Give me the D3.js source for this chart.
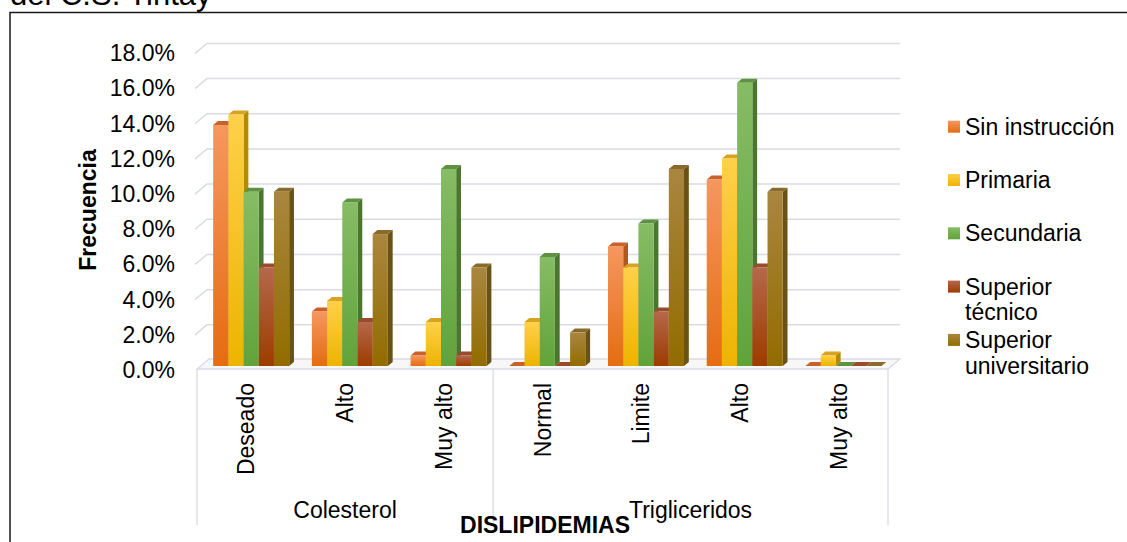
<!DOCTYPE html>
<html>
<head>
<meta charset="utf-8">
<script src="https://cdn.jsdelivr.net/npm/d3@7"></script>
<style>
  html, body { margin: 0; padding: 0; background: #fff; }
  svg { display: block; font-family: "Liberation Sans", Arial, sans-serif; }
</style>
</head>
<body>
<svg id="chart" width="1127" height="542"></svg>
<script>
// Lipid categories grouped by test
const groups = ["Colesterol", "Trigliceridos"];
const categories = ["Deseado", "Alto", "Muy alto", "Normal", "Limite", "Alto", "Muy alto"];
const categoryGroup = [0, 0, 0, 1, 1, 1, 1];

// Education levels (series) and their percentages per category
const seriesNames = ["Sin instrucción", "Primaria", "Secundaria", "Superior técnico", "Superior universitario"];
const sinInstruccion = [13.7, 3.1, 0.6, 0.0, 6.8, 10.6, 0.0];
const primaria       = [14.3, 3.7, 2.5, 2.5, 5.6, 11.8, 0.6];
const secundaria     = [9.9, 9.3, 11.2, 6.2, 8.1, 16.1, 0.0];
const superiorTec    = [5.6, 2.5, 0.6, 0.0, 3.1, 5.6, 0.0];
const superiorUniv   = [9.9, 7.5, 5.6, 1.9, 11.2, 9.9, 0.0];
const seriesValues = [sinInstruccion, primaria, secundaria, superiorTec, superiorUniv];

const yTicks = [0, 2, 4, 6, 8, 10, 12, 14, 16, 18];

// Face colours: gradient top/bottom for the front, plus side and top faces
const palette = [
  { top: "#F5975F", bottom: "#E56C12", side: "#B2561C", cap: "#C8612A" },
  { top: "#FFD04A", bottom: "#EDB400", side: "#B58A00", cap: "#D7A321" },
  { top: "#86BC65", bottom: "#61A33A", side: "#4A772D", cap: "#5E9140" },
  { top: "#B5684A", bottom: "#9C3C00", side: "#763614", cap: "#9A4B2C" },
  { top: "#A9863F", bottom: "#926C00", side: "#6A5216", cap: "#8A6A2A" }
];

const svg = d3.select("#chart");
const font = "Liberation Sans, Arial, sans-serif";

// 3-D box geometry: depth offset of the plot walls
const depth = { dx: 12, dy: -10 };
const barFrontT = 0.4, barBackT = 0.8;

const yBack = d3.scaleLinear().domain([0, 18]).range([360, 43.4]);
const yFront = v => yBack(v) - depth.dy;

const x = d3.scaleBand().domain(d3.range(categories.length)).range([197, 888]);
const barW = 15.2;
const xSub = d3.scaleBand().domain(d3.range(seriesNames.length))
  .range([0, barW * seriesNames.length]);

// gradients
const defs = svg.append("defs");
palette.forEach((c, i) => {
  const g = defs.append("linearGradient").attr("id", "grad" + i)
    .attr("x1", 0).attr("y1", 0).attr("x2", 0).attr("y2", 1);
  g.append("stop").attr("offset", "0%").attr("stop-color", c.top);
  g.append("stop").attr("offset", "100%").attr("stop-color", c.bottom);
});

// frame and the heading line above it
svg.append("text").attr("x", 10).attr("y", 5)
  .attr("font-size", 31).attr("font-family", font).attr("fill", "#000")
  .text("del C.S. Tintay");
svg.append("rect").attr("x", 10).attr("y", 12.5).attr("width", 1140).attr("height", 560)
  .attr("fill", "none").attr("stroke", "#1a1a1a").attr("stroke-width", 1.5);

// floor
const x0 = x.range()[0], x1 = x.range()[1];
const floorFront = yFront(0) - 1;
svg.append("polygon")
  .attr("points", [[x0, floorFront], [x1, floorFront], [x1 + depth.dx, floorFront + depth.dy], [x0 + depth.dx, floorFront + depth.dy]].join(" "))
  .attr("fill", "#f7f7f8").attr("stroke", "#d9dce2").attr("stroke-width", 1.3);

// gridlines: left-wall slant + back wall
const grid = svg.append("g").attr("stroke", "#d9dce3").attr("stroke-width", 1.5).attr("fill", "none");
yTicks.forEach(t => {
  if (t === 0) return;
  grid.append("path")
    .attr("d", `M${x0 - 2},${yFront(t)} L${x0 + depth.dx - 2},${yBack(t)} L${x1 + depth.dx},${yBack(t)}`);
});

// y-axis tick labels
const yAxis = d3.axisLeft(d3.scaleLinear().domain([0, 18]).range([yFront(0), yFront(18)]))
  .tickValues(yTicks).tickSize(0).tickPadding(0)
  .tickFormat(d => d.toFixed(1) + "%");
const yg = svg.append("g").attr("transform", "translate(175,0)").call(yAxis);
yg.select(".domain").remove();
yg.selectAll("text").attr("font-size", 23).attr("font-family", font).attr("fill", "#000");

// bars
const bx = depth.dx * barFrontT, by = depth.dy * barFrontT;
const sdx = depth.dx * (barBackT - barFrontT), sdy = depth.dy * (barBackT - barFrontT);
const barsG = svg.append("g");
categories.forEach((cat, ci) => {
  const pad = (x.bandwidth() - xSub.range()[1]) / 2;
  seriesValues.forEach((vals, si) => {
    const v = vals[ci];
    const left = x(ci) + pad + xSub(si) + bx;
    const right = left + xSub.bandwidth();
    const base = yFront(0) + by;
    const top = yFront(v) + by;
    const c = palette[si];
    const g = barsG.append("g");
    // right side face
    g.append("polygon")
      .attr("points", [[right, top], [right + sdx, top + sdy], [right + sdx, base + sdy], [right, base]].join(" "))
      .attr("fill", c.side);
    // top face
    g.append("polygon")
      .attr("points", [[left, top], [left + sdx, top + sdy], [right + sdx, top + sdy], [right, top]].join(" "))
      .attr("fill", c.cap);
    // front face
    if (v > 0) {
      g.append("rect").attr("x", left).attr("y", top)
        .attr("width", xSub.bandwidth()).attr("height", base - top)
        .attr("fill", `url(#grad${si})`);
    }
  });
});

// category dividers between test groups
const divY0 = floorFront, divY1 = 525;
const boundaries = [0];
categoryGroup.forEach((g, i) => { if (i > 0 && g !== categoryGroup[i - 1]) boundaries.push(i); });
const divXs = boundaries.map(i => x(i)).concat([x1]);
svg.append("g").selectAll("line").data(divXs).join("line")
  .attr("x1", d => d).attr("x2", d => d).attr("y1", divY0).attr("y2", divY1)
  .attr("stroke", "#d9dce3").attr("stroke-width", 1.3);

// rotated category labels
svg.append("g").selectAll("text").data(categories).join("text")
  .attr("transform", (d, i) => `translate(${x(i) + x.bandwidth() / 2},383) rotate(-90)`)
  .attr("text-anchor", "end").attr("dy", "0.35em")
  .attr("font-size", 23).attr("font-family", font).attr("fill", "#000")
  .text(d => d);

// group labels
groups.forEach((name, gi) => {
  const idx = d3.range(categories.length).filter(i => categoryGroup[i] === gi);
  const cx = (x(idx[0]) + x(idx[idx.length - 1]) + x.bandwidth()) / 2;
  svg.append("text").attr("x", cx).attr("y", 518).attr("text-anchor", "middle")
    .attr("font-size", 23).attr("font-family", font).attr("fill", "#000").text(name);
});

// axis titles
svg.append("text").attr("x", 545).attr("y", 533).attr("text-anchor", "middle")
  .attr("font-size", 23).attr("font-weight", "bold").attr("font-family", font)
  .text("DISLIPIDEMIAS");
svg.append("text").attr("transform", "translate(88,210) rotate(-90)")
  .attr("text-anchor", "middle").attr("dy", "0.35em")
  .attr("font-size", 23).attr("font-weight", "bold").attr("font-family", font)
  .text("Frecuencia");

// legend
const legend = svg.append("g");
const lineH = 25.6;
seriesNames.forEach((name, i) => {
  const cy = 126.7 + i * 53.3;
  legend.append("rect").attr("x", 948).attr("y", cy - 6).attr("width", 12).attr("height", 12)
    .attr("fill", `url(#grad${i})`);
  const t = legend.append("text").attr("x", 965).attr("y", cy).attr("dy", "0.35em")
    .attr("font-size", 23).attr("font-family", font).attr("fill", "#000").text(name);
  if (t.node().getComputedTextLength() > 155) {
    const words = name.split(" ");
    t.text(null);
    words.forEach((w, k) => {
      t.append("tspan").attr("x", 965).attr("y", cy + k * lineH).attr("dy", "0.35em").text(w);
    });
  }
});
</script>
</body>
</html>
